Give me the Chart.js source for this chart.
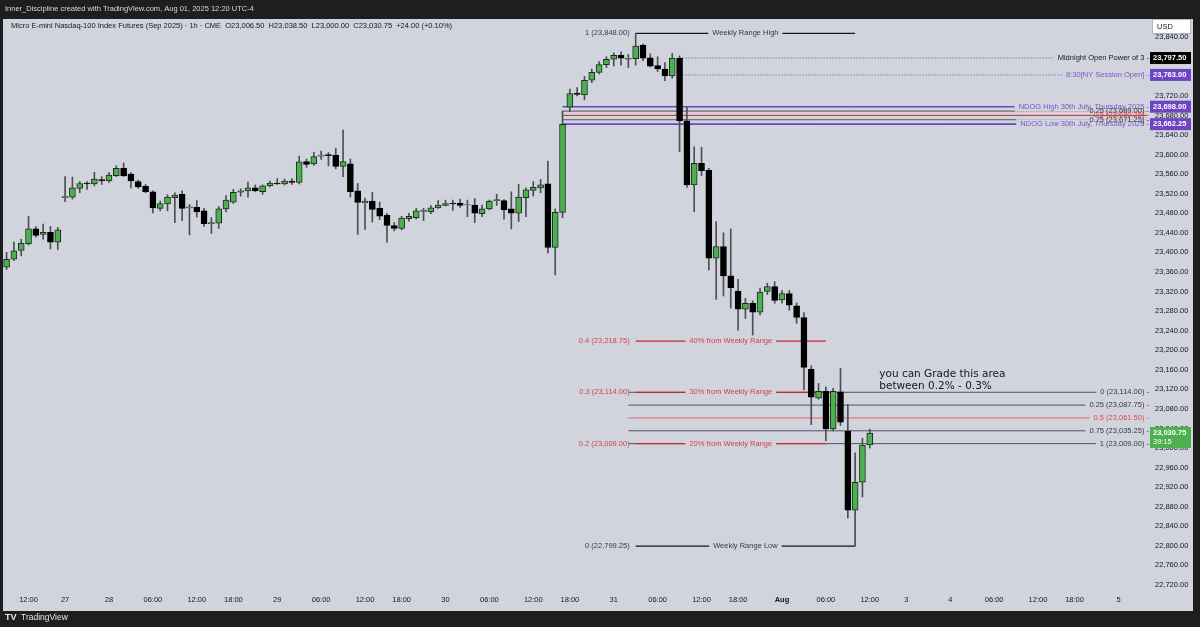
<!DOCTYPE html>
<html>
<head>
<meta charset="utf-8">
<script src="https://cdn.jsdelivr.net/npm/chart.js@4.4.0/dist/chart.umd.min.js"></script>
<style>
  html, body { margin: 0; padding: 0; background: #1e1e1e; }
  #wrap { width: 1200px; height: 627px; }
</style>
</head>
<body>
<div id="wrap"><canvas id="chart" width="1200" height="627"></canvas></div>
<script>
// hourly bars, index 0 = Fri 25 Jul 12:00
const firstBar = -3;
const opens = [23370,23386,23404,23418,23448,23437,23441,23421,23512,23513,23531,23542,23540,23549,23546,23557,23572,23560,23545,23535,
  23524,23490,23499,23512,23519,23491,23492,23485,23459,23460,23489,23503,23523,23526,23532,23524,23536,23542,23540,23546,
  23543,23586,23581,23597,23600,23599,23576,23581,23526,23501,23505,23490,23476,23455,23449,23469,23471,23484,23483,23491,
  23496,23501,23501,23497,23497,23479,23489,23506,23506,23489,23480,23512,23527,23532,23540,23410,23482,23697,23726,23722,
  23752,23768,23784,23795,23803,23795,23796,23824,23798,23782,23775,23761,23797.5,23669,23538,23582,23568,23388,23412,23352,
  23321,23284,23296,23278,23320,23330,23303,23316,23291,23267,23161,23102,23116,23039,23115,23034,22873,22930,23006.5];
const highs = [23400,23421,23427,23474,23453,23458,23453,23451,23555,23554,23545,23545,23564,23555,23563,23577,23583,23563,23548,23539,
  23526,23505,23518,23522,23526,23498,23506,23490,23471,23494,23516,23529,23530,23544,23538,23538,23546,23551,23550,23551,
  23597,23591,23605,23607,23604,23613,23650,23591,23541,23511,23523,23503,23480,23461,23474,23480,23490,23490,23496,23506,
  23507,23507,23509,23507,23510,23497,23507,23519,23508,23524,23539,23532,23545,23549,23587,23489,23689,23734,23737,23760,
  23775,23790,23800,23808,23810,23805,23848,23826,23806,23800,23788,23807,23802,23698,23616,23615,23572,23463,23440,23448,
  23345,23306,23301,23327,23337,23340,23322,23322,23297,23277,23168,23132,23125,23122,23163,23089,22990,23020,23038.5];
const lows = [23365,23383,23393,23415,23431,23427,23407,23406,23504,23509,23522,23529,23536,23539,23543,23555,23555,23532,23531,23522,
  23481,23485,23485,23461,23465,23436,23472,23453,23439,23449,23483,23500,23515,23513,23524,23519,23534,23539,23538,23539,
  23540,23574,23578,23590,23577,23571,23555,23513,23437,23447,23462,23467,23421,23444,23446,23464,23468,23465,23479,23490,
  23495,23486,23492,23473,23461,23473,23487,23496,23468,23448,23463,23473,23515,23522,23399,23354,23471,23688,23720,23712,
  23747,23765,23778,23781,23783,23778,23783,23792,23779,23770,23751,23756,23606,23533,23483,23557,23364,23304,23311,23286,
  23241,23265,23231,23272,23314,23296,23296,23282,23255,23119,23048,23100,23015,23035,23046,22857,22799.25,22900,23000];
const closes = [23386,23403,23419,23448,23435,23441,23421,23446,23514,23532,23541,23540,23550,23546,23558,23572,23557,23546,23534,23524,
  23491,23500,23513,23517,23490,23493,23483,23459,23461,23489,23507,23523,23526,23532,23526,23536,23542,23540,23546,23543,
  23585,23580,23596,23599,23598,23576,23586,23524,23502,23505,23488,23474,23455,23449,23470,23474,23485,23486,23491,23497,
  23500,23499,23496,23498,23480,23489,23505,23508,23487,23480,23513,23528,23533,23538,23410,23482,23662,23725,23723,23752,
  23768,23784,23795,23803,23797,23797,23822,23797,23781,23775,23761,23797.5,23669,23538,23582,23567,23388,23412,23352,23328,
  23284,23296,23278,23319,23330,23302,23316,23292,23267,23165,23104,23116,23039,23116,23053,22873,22930,23006,23030.75];

const timeTickBars = [0,5,11,17,23,28,34,40,46,51,57,63,69,74,80,86,92,97,103,109,115,120,126,132,138,143,149];
const timeTickText = ['12:00','27','28','06:00','12:00','18:00','29','06:00','12:00','18:00','30','06:00','12:00','18:00',
  '31','06:00','12:00','18:00','Aug','06:00','12:00','3','4','06:00','12:00','18:00','5'];
const priceTicks = [22720,22760,22800,22840,22880,22920,22960,23000,23040,23080,23120,23160,23200,23240,23280,23320,
  23360,23400,23440,23480,23520,23560,23600,23640,23680,23720,23760,23800,23840];

// drawn levels
const weeklyHigh = 23848, weeklyLow = 22799.25;
const weeklyLevels = [0.4, 0.3, 0.2];
const weeklyLevelPrices = [23218.75, 23114.00, 23009.00];
const gradeFib = [0, 0.25, 0.5, 0.75, 1];
const gradeFibPrices = [23114.00, 23087.75, 23061.50, 23035.25, 23009.00];
const ndogHigh = 23698.00, ndogLow = 23662.25;
const ndogFib = [0.25, 0.5, 0.75];
const ndogFibPrices = [23689.00, 23680.25, 23671.25];
const midnightOpen = 23797.50, nyOpen = 23763.00;
const lastPrice = 23030.75, countdown = '39:15';

const xMin = -3.49, xMax = 152.9;
const yMin = 22709.7, yMax = 23877.3;

const FONT = '"Liberation Sans", Arial, sans-serif';
const INK = '#131722';
const RED = '#c62828', RED_TXT = '#d43d4f';
const PURPLE = '#6d45c4', PURPLE_TXT = '#7a55c8';
const GREY = '#50535e';
const PANEL = '#d1d4dc';

const bars = opens.map((_, i) => firstBar + i);
const fmt = v => v.toLocaleString('en-US', { minimumFractionDigits: 2, maximumFractionDigits: 2 });

function hline(x1, x2, y, color, width, dash) {
  return { type: 'line', data: [{ x: x1, y: y }, { x: x2, y: y }], borderColor: color, borderWidth: width,
    borderDash: dash || [], pointRadius: 0, fill: false, order: 5 };
}

const lineSets = [
  hline(89, xMax, midnightOpen, '#555a66', 1, [1, 2]),
  hline(89, xMax, nyOpen, PURPLE, 1, [1, 2]),
  hline(73, xMax, ndogHigh, PURPLE, 1.6),
  hline(73, xMax, ndogLow, PURPLE, 1.6),
  hline(73, xMax, ndogFibPrices[0], GREY, 1),
  hline(73, xMax, ndogFibPrices[1], RED, 1),
  hline(73, xMax, ndogFibPrices[2], GREY, 1),
  hline(83, 113, weeklyHigh, INK, 1.2),
  hline(83, 113, weeklyLow, INK, 1.2)
];
gradeFibPrices.forEach((p, i) => lineSets.push(hline(82, xMax, p, i === 2 ? '#e06070' : GREY, 1)));
weeklyLevelPrices.forEach(p => { const d = hline(83, 109, p, RED, 1.3); d.order = 4; lineSets.push(d); });

function text(c, s, x, y, align, color, size, bg, weight) {
  c.font = (weight || 'normal') + ' ' + size + 'px ' + FONT;
  c.textAlign = align;
  c.textBaseline = 'middle';
  if (bg) {
    const w = c.measureText(s).width;
    const x0 = align === 'right' ? x - w : align === 'center' ? x - w / 2 : x;
    c.fillStyle = bg;
    c.fillRect(x0 - 4, y - 5, w + 8, 10);
  }
  c.fillStyle = color;
  c.fillText(s, x, y);
}

const deco = {
  id: 'deco',
  beforeDraw(chart) {
    const c = chart.ctx;
    c.save();
    c.fillStyle = '#1e1e1e';
    c.fillRect(0, 0, 1200, 627);
    c.fillStyle = PANEL;
    c.fillRect(3, 19, 1190, 592);
    c.restore();
  },
  afterDatasetsDraw(chart) {
    const c = chart.ctx, xs = chart.scales.x, ys = chart.scales.y;
    const px = v => xs.getPixelForValue(v), py = v => ys.getPixelForValue(v);
    c.save();
    const leftX = px(83) - 6, rightX = 1149;
    // weekly range
    text(c, '1 (' + fmt(weeklyHigh) + ')', leftX, py(weeklyHigh), 'right', '#363a45', 7.5);
    text(c, '0 (' + fmt(weeklyLow) + ')', leftX, py(weeklyLow), 'right', '#363a45', 7.5);
    text(c, 'Weekly Range High', (px(83) + px(113)) / 2, py(weeklyHigh), 'center', '#363a45', 7.5, PANEL);
    text(c, 'Weekly Range Low', (px(83) + px(113)) / 2, py(weeklyLow), 'center', '#363a45', 7.5, PANEL);
    weeklyLevels.forEach((l, i) => {
      const y = py(weeklyLevelPrices[i]);
      text(c, l + ' (' + fmt(weeklyLevelPrices[i]) + ')', leftX, y, 'right', RED_TXT, 7.5);
      text(c, Math.round(l * 100) + '% from Weekly Range', (px(83) + px(109)) / 2, y, 'center', RED_TXT, 7.5, PANEL);
    });
    // right side labels
    gradeFib.forEach((l, i) => {
      text(c, l + ' (' + fmt(gradeFibPrices[i]) + ') -', rightX, py(gradeFibPrices[i]), 'right',
        i === 2 ? '#e0455a' : '#363a45', 7.5, PANEL);
    });
    text(c, 'Midnight Open Power of 3 -', rightX, py(midnightOpen), 'right', INK, 7.5, PANEL);
    text(c, '8:30[NY Session Open] -', rightX, py(nyOpen), 'right', PURPLE_TXT, 7.5, PANEL);
    text(c, 'NDOG High 30th July, Thursday 2025 -', rightX, py(ndogHigh), 'right', PURPLE_TXT, 7.5, PANEL);
    text(c, 'NDOG Low 30th July, Thursday 2025 -', rightX, py(ndogLow), 'right', PURPLE_TXT, 7.5, PANEL);
    ndogFib.forEach((l, i) => {
      text(c, l + ' (' + fmt(ndogFibPrices[i]) + ') -', rightX, py(ndogFibPrices[i]), 'right',
        i === 1 ? '#e0455a' : '#363a45', 7.5);
    });
    // note
    c.font = '10.5px "DejaVu Sans", sans-serif';
    c.textAlign = 'left'; c.textBaseline = 'middle'; c.fillStyle = INK;
    c.fillText('you can Grade this area', px(116.3), py(23150));
    c.fillText('between 0.2% - 0.3%', px(116.3), py(23126));
    c.restore();
  },
  afterDraw(chart) {
    const c = chart.ctx, ys = chart.scales.y;
    const py = v => ys.getPixelForValue(v);
    c.save();
    // header + legend
    text(c, 'Inner_Discipline created with TradingView.com, Aug 01, 2025 12:20 UTC-4', 5, 9, 'left', '#d9d9d9', 7.5);
    text(c, 'Micro E-mini Nasdaq-100 Index Futures (Sep 2025) \u00b7 1h \u00b7 CME  O23,006.50  H23,038.50  L23,000.00  C23,030.75  +24.00 (+0.10%)',
      11, 26, 'left', INK, 7.5);
    // USD box
    c.fillStyle = '#ffffff';
    c.fillRect(1152, 19, 39, 15);
    c.strokeStyle = '#b2b5be';
    c.strokeRect(1152.5, 19.5, 38, 14);
    text(c, 'USD', 1157, 27, 'left', INK, 7.5);
    // axis boxes
    const box = (p, bg, s) => {
      const y = py(p);
      c.fillStyle = bg;
      c.fillRect(1150, y - 6, 41, 12);
      text(c, s, 1153, y, 'left', '#ffffff', 7.5, null, 'bold');
    };
    box(midnightOpen, '#000000', fmt(midnightOpen));
    box(nyOpen, PURPLE, fmt(nyOpen));
    box(ndogHigh, PURPLE, fmt(ndogHigh));
    box(ndogLow, PURPLE, fmt(ndogLow));
    const yl = py(lastPrice);
    c.fillStyle = '#4caf50';
    c.fillRect(1150, yl - 6, 41, 21);
    text(c, fmt(lastPrice), 1153, yl, 'left', '#ffffff', 7.5, null, 'bold');
    text(c, countdown, 1153, yl + 9, 'left', '#ffffff', 7.5);
    // watermark
    text(c, 'TV', 5, 618, 'left', '#e8e8e8', 9, null, 'bold');
    text(c, 'TradingView', 21, 618, 'left', '#e8e8e8', 8.5);
    c.restore();
  }
};

new Chart(document.getElementById('chart'), {
  type: 'bar',
  data: {
    datasets: [
      {
        data: bars.map((b, i) => ({ x: b, y: [opens[i], closes[i]] })),
        backgroundColor: opens.map((o, i) => closes[i] >= o ? '#4caf50' : '#000000'),
        borderColor: opens.map((o, i) => closes[i] >= o ? '#1d2b1d' : '#000000'),
        borderWidth: 1,
        borderSkipped: false,
        barThickness: 6,
        grouped: false,
        order: 0
      },
      {
        data: bars.map((b, i) => ({ x: b, y: [lows[i], highs[i]] })),
        backgroundColor: '#4d4f57',
        barThickness: 1,
        grouped: false,
        order: 1
      },
      ...lineSets
    ]
  },
  options: {
    responsive: false,
    animation: false,
    devicePixelRatio: 1,
    layout: { padding: { left: 3, top: 19, right: 7, bottom: 16 } },
    plugins: { legend: { display: false }, tooltip: { enabled: false } },
    scales: {
      x: {
        type: 'linear', min: xMin, max: xMax, offset: false,
        grid: { display: false, drawTicks: false }, border: { display: false },
        afterBuildTicks: s => { s.ticks = timeTickBars.map(v => ({ value: v })); },
        afterFit: s => { s.height = 21; },
        ticks: {
          autoSkip: false, maxRotation: 0, minRotation: 0, padding: 5, color: INK,
          font: ctx => ({ family: FONT, size: 7.5, weight: (ctx.tick && ctx.tick.value === 103) ? 'bold' : 'normal' }),
          callback: v => timeTickText[timeTickBars.indexOf(v)]
        }
      },
      y: {
        position: 'right', min: yMin, max: yMax,
        grid: { display: false, drawTicks: false }, border: { display: false },
        afterBuildTicks: s => { s.ticks = priceTicks.map(v => ({ value: v })); },
        afterFit: s => { s.width = 46; },
        ticks: { padding: 8, color: INK, font: { family: FONT, size: 7.5 }, callback: v => fmt(v) }
      }
    }
  },
  plugins: [deco]
});
</script>
</body>
</html>
